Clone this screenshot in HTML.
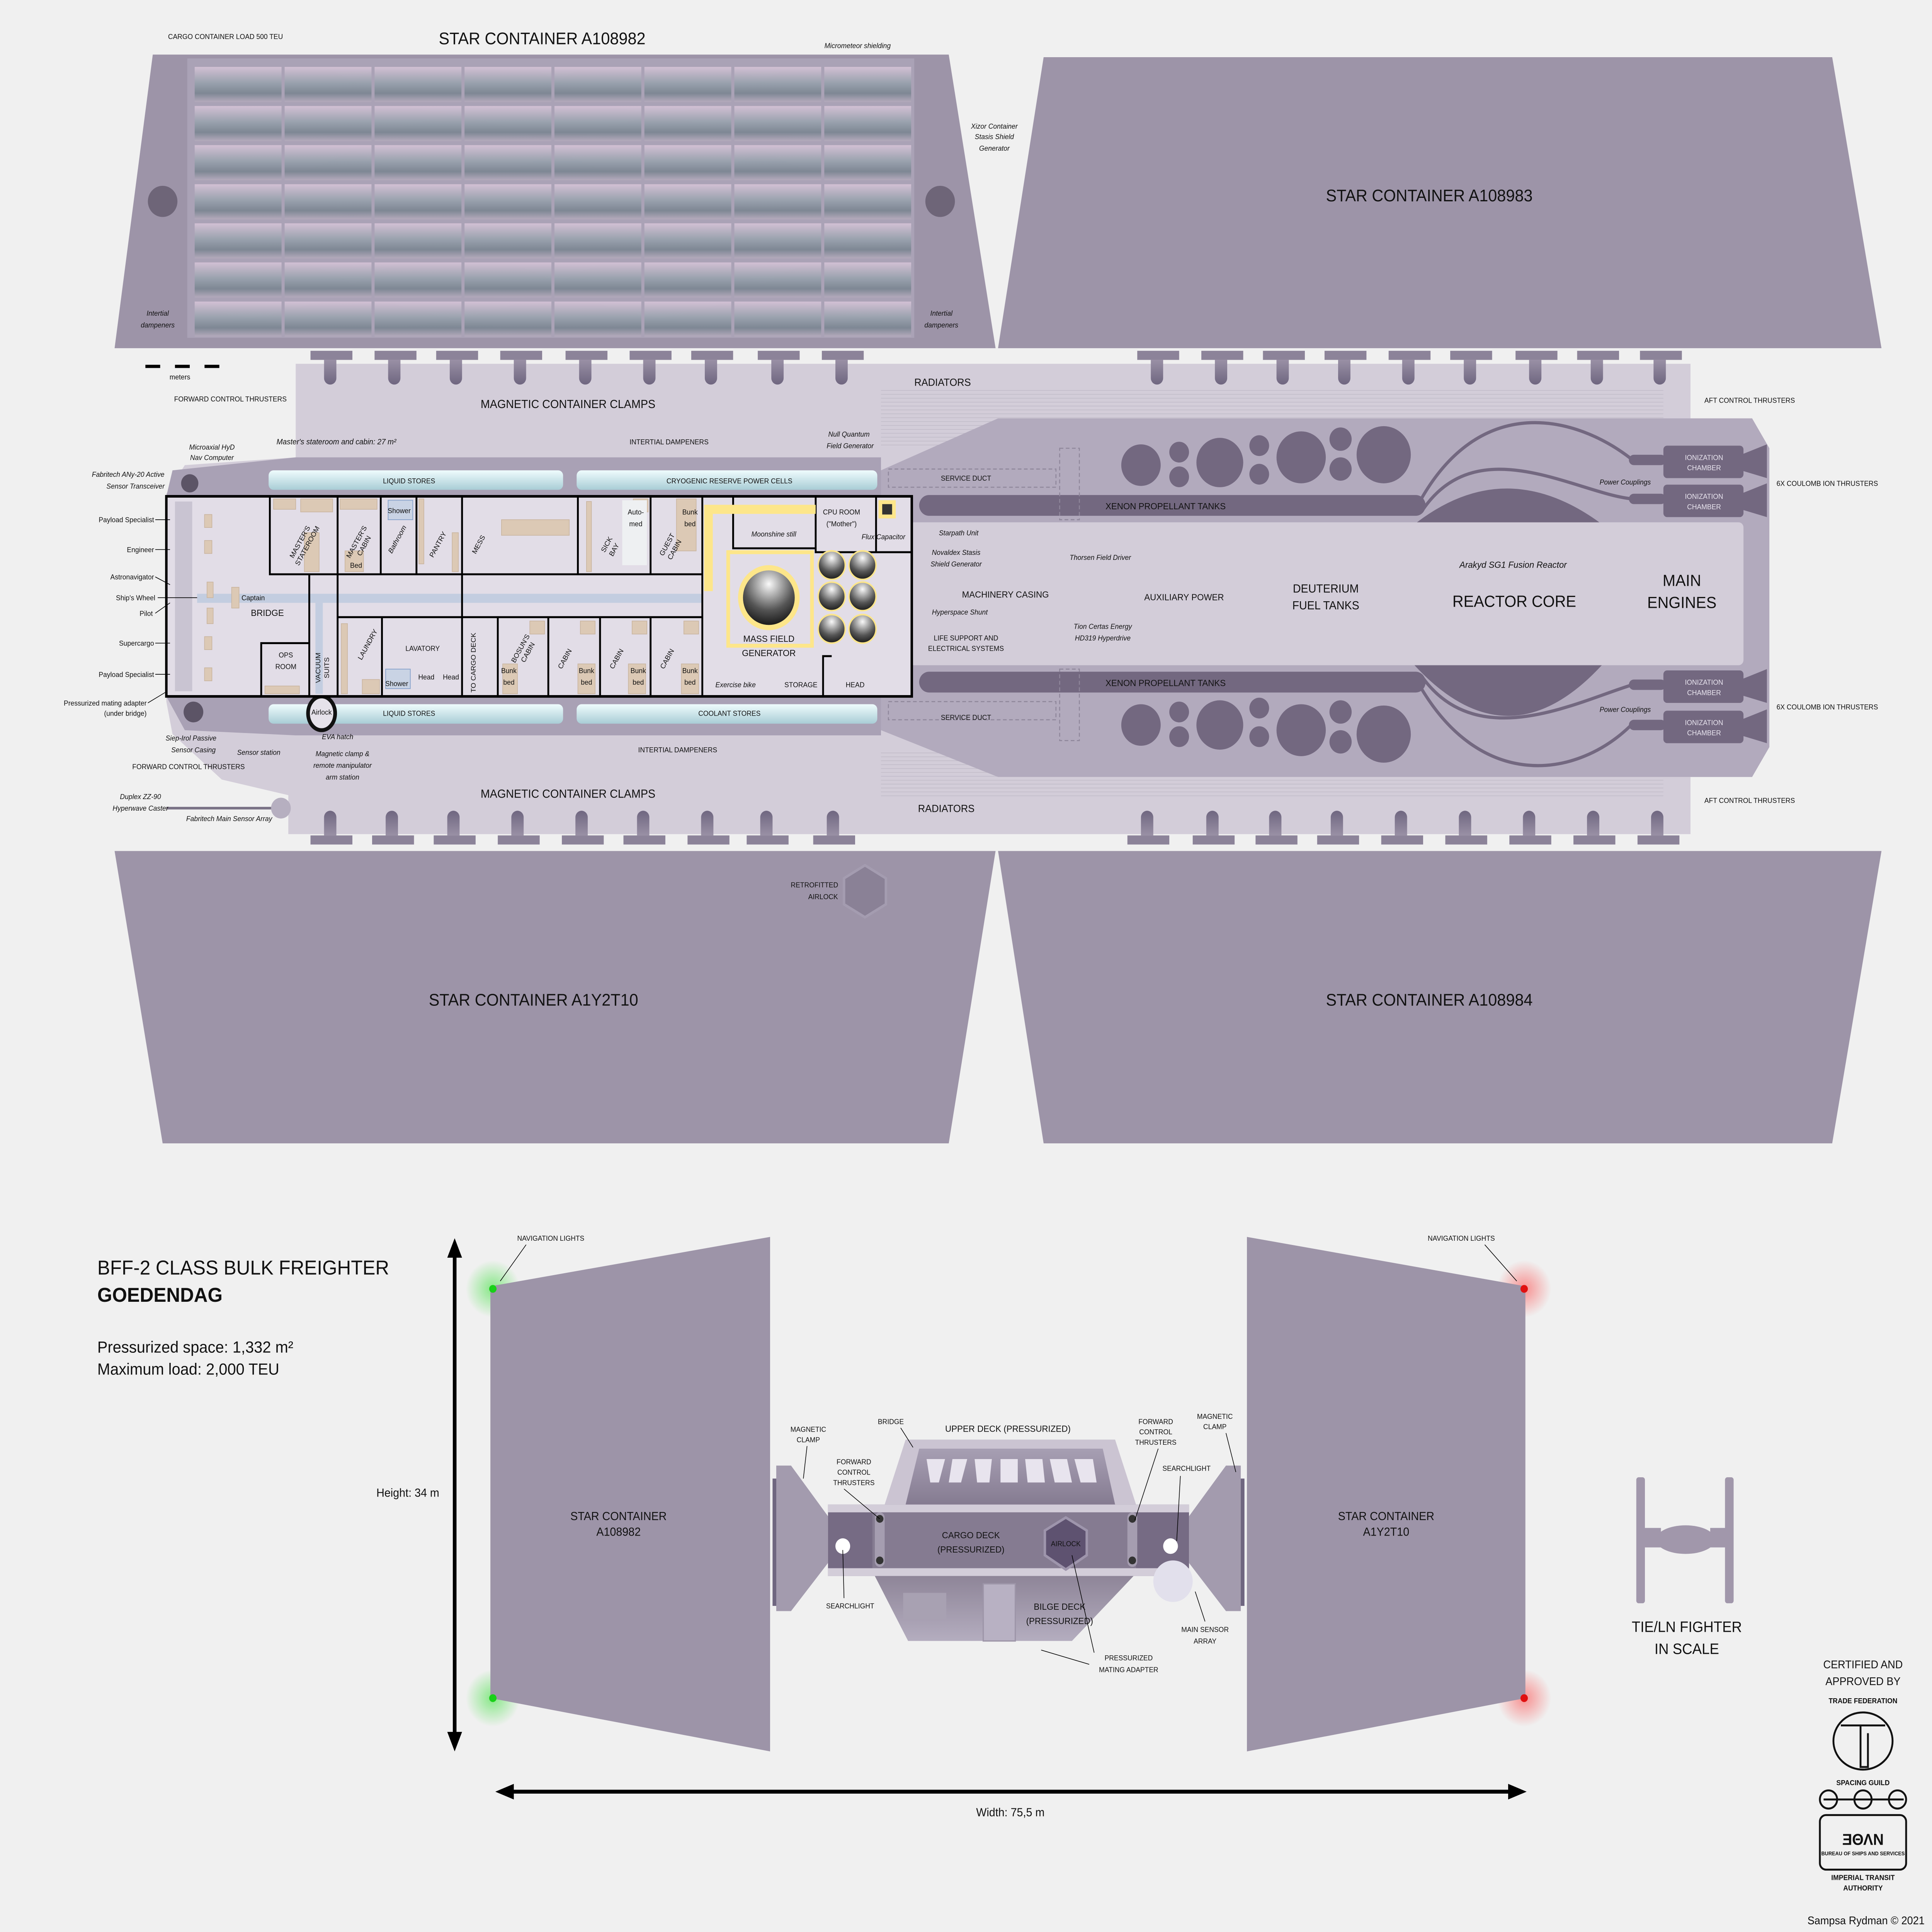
<!DOCTYPE html>
<html><head><meta charset="utf-8">
<style>
html,body{margin:0;padding:0;background:#f0f0f0;overflow:hidden;width:100%;height:100%;}
svg{display:block;position:fixed;left:0;top:0;width:100vw;height:100vh;}
text{font-family:"Liberation Sans Narrow","Liberation Sans",sans-serif;fill:#111;}
.s{font-size:5.5px;}
.si{font-size:5.5px;font-style:italic;}
.m{font-size:7px;}
.c{text-anchor:middle;}
.r{text-anchor:end;}
</style></head><body>
<svg viewBox="0 0 1568 1487" preserveAspectRatio="none" xmlns="http://www.w3.org/2000/svg">
<defs>
<linearGradient id="box" x1="0" y1="0" x2="0" y2="1">
<stop offset="0" stop-color="#d2c0d4"/><stop offset="0.45" stop-color="#9aa2ae"/><stop offset="0.75" stop-color="#7e8794"/><stop offset="1" stop-color="#b4aabc"/></linearGradient>
<pattern id="grid" x="157" y="50" width="73" height="30.1" patternUnits="userSpaceOnUse">
<rect x="1" y="1.5" width="70.5" height="27" fill="url(#box)"/></pattern>
<linearGradient id="stem" x1="0" y1="0" x2="0" y2="1"><stop offset="0" stop-color="#9990a5"/><stop offset="1" stop-color="#6f6680"/></linearGradient>
<linearGradient id="stem2" x1="0" y1="1" x2="0" y2="0"><stop offset="0" stop-color="#9990a5"/><stop offset="1" stop-color="#6f6680"/></linearGradient>
<linearGradient id="pill" x1="0" y1="0" x2="0" y2="1"><stop offset="0" stop-color="#effcfd"/><stop offset="1" stop-color="#a9cdd6"/></linearGradient>
<radialGradient id="sph" cx="0.5" cy="0.25" r="0.8"><stop offset="0" stop-color="#fafafa"/><stop offset="0.6" stop-color="#555"/><stop offset="1" stop-color="#111"/></radialGradient>
<radialGradient id="gg"><stop offset="0" stop-color="#2fe02f" stop-opacity="0.55"/><stop offset="1" stop-color="#2fe02f" stop-opacity="0"/></radialGradient>
<radialGradient id="rg"><stop offset="0" stop-color="#ff3030" stop-opacity="0.5"/><stop offset="1" stop-color="#ff3030" stop-opacity="0"/></radialGradient>
<linearGradient id="deck" x1="0" y1="0" x2="0" y2="1"><stop offset="0" stop-color="#a79fb3"/><stop offset="1" stop-color="#857b91"/></linearGradient>
<linearGradient id="bil" x1="0" y1="0" x2="0" y2="1"><stop offset="0" stop-color="#8e8598"/><stop offset="1" stop-color="#b4adbf"/></linearGradient>
<pattern id="rad" width="4" height="3" patternUnits="userSpaceOnUse"><rect width="4" height="3" fill="#d3cdd9"/><path d="M0 0.5H4" stroke="#c2bcc9" stroke-width="0.5"/></pattern>
</defs>

<rect width="1568" height="1487" fill="#f0f0f0"/>

<polygon points="124,42 770,42 808,268 93,268" fill="#9d94a8"/>
<rect x="152" y="45" width="590" height="215" fill="#aaa2b6"/>
<rect x="157" y="50" width="584" height="211" fill="url(#grid)"/>
<circle cx="132" cy="155" r="12" fill="#6e6578"/>
<circle cx="763" cy="155" r="12" fill="#6e6578"/>
<polygon points="847,44 1487,44 1527,268 810,268" fill="#9d94a8"/>
<polygon points="93,655 808,655 770,880 132,880" fill="#9d94a8"/>
<polygon points="810,655 1527,655 1487,880 847,880" fill="#9d94a8"/>
<polygon points="702,666 719,676 719,696 702,706 685,696 685,676" fill="#8a8196" stroke="#a49cb0" stroke-width="2"/>

<polygon points="240,280 1372,280 1372,322 1422,322 1436,345 1436,575 1422,598 1372,598 1372,642 234,642 234,612 180,600 140,565 135,540 135,380 150,358 240,352" fill="#d3cdd9"/>
<polygon points="240,352 715,352 715,382 135,382 140,362" fill="#a9a1b5"/>
<polygon points="135,536 715,536 715,566 240,566 150,562" fill="#a9a1b5"/>
<rect x="715" y="300" width="635" height="45" fill="url(#rad)"/>
<rect x="715" y="578" width="635" height="35" fill="url(#rad)"/>
<polygon points="715,362 810,322 1422,322 1436,345 1436,575 1422,598 810,598 715,562" fill="#b2aabd"/>
<rect x="738" y="402" width="677" height="110" rx="4" fill="#d3cdd9"/>
<g fill="#736880">
<rect x="746" y="381" width="411" height="16" rx="8"/>
<rect x="746" y="517" width="411" height="16" rx="8"/>
<ellipse cx="926" cy="358" rx="16" ry="16"/><ellipse cx="957" cy="348" rx="8" ry="8"/><ellipse cx="957" cy="367" rx="8" ry="8"/>
<ellipse cx="990" cy="356" rx="19" ry="19"/><ellipse cx="1022" cy="343" rx="8" ry="8"/><ellipse cx="1022" cy="365" rx="8" ry="8"/>
<ellipse cx="1056" cy="352" rx="20" ry="20"/><ellipse cx="1088" cy="338" rx="9" ry="9"/><ellipse cx="1088" cy="361" rx="9" ry="9"/><ellipse cx="1123" cy="350" rx="22" ry="22"/>
<ellipse cx="926" cy="558" rx="16" ry="16"/><ellipse cx="957" cy="548" rx="8" ry="8"/><ellipse cx="957" cy="567" rx="8" ry="8"/>
<ellipse cx="990" cy="558" rx="19" ry="19"/><ellipse cx="1022" cy="545" rx="8" ry="8"/><ellipse cx="1022" cy="567" rx="8" ry="8"/>
<ellipse cx="1056" cy="562" rx="20" ry="20"/><ellipse cx="1088" cy="548" rx="9" ry="9"/><ellipse cx="1088" cy="571" rx="9" ry="9"/><ellipse cx="1123" cy="565" rx="22" ry="22"/>
<path d="M1150 402 Q1222 350 1298 402Z"/>
<path d="M1148 512 Q1224 590 1300 512Z"/>
<rect x="1350" y="343" width="65" height="25" rx="3"/><rect x="1350" y="373" width="65" height="25" rx="3"/>
<rect x="1350" y="516" width="65" height="25" rx="3"/><rect x="1350" y="547" width="65" height="25" rx="3"/>
<polygon points="1413,350 1434,342 1434,368 1413,362"/><polygon points="1413,380 1434,372 1434,398 1413,392"/>
<polygon points="1413,523 1434,515 1434,541 1413,535"/><polygon points="1413,554 1434,546 1434,572 1413,566"/>
<rect x="1322" y="350" width="30" height="8" rx="4"/><rect x="1322" y="380" width="30" height="8" rx="4"/>
<rect x="1322" y="523" width="30" height="8" rx="4"/><rect x="1322" y="554" width="30" height="8" rx="4"/>
</g>
<g fill="none" stroke="#736880" stroke-width="2.5">
<path d="M1150 390 C1200 300 1280 320 1325 354"/><path d="M1155 392 C1200 330 1280 380 1325 384"/>
<path d="M1150 524 C1200 610 1280 600 1325 557"/><path d="M1155 522 C1200 580 1280 540 1325 527"/>
</g>
<g fill="none" stroke="#8f879b" stroke-width="0.8" stroke-dasharray="3,2">
<rect x="721" y="361" width="136" height="14"/><rect x="721" y="540" width="136" height="14"/>
<rect x="860" y="345" width="16" height="55"/><rect x="860" y="515" width="16" height="55"/>
</g>

<g>
<g fill="#8c8399">
<rect x="252" y="270" width="34" height="7"/><rect x="304" y="270" width="34" height="7"/><rect x="354" y="270" width="34" height="7"/><rect x="406" y="270" width="34" height="7"/><rect x="459" y="270" width="34" height="7"/><rect x="511" y="270" width="34" height="7"/><rect x="561" y="270" width="34" height="7"/><rect x="615" y="270" width="34" height="7"/><rect x="667" y="270" width="34" height="7"/>
<rect x="923" y="270" width="34" height="7"/><rect x="975" y="270" width="34" height="7"/><rect x="1025" y="270" width="34" height="7"/><rect x="1075" y="270" width="34" height="7"/><rect x="1127" y="270" width="34" height="7"/><rect x="1177" y="270" width="34" height="7"/><rect x="1230" y="270" width="34" height="7"/><rect x="1280" y="270" width="34" height="7"/><rect x="1331" y="270" width="34" height="7"/>
<rect x="252" y="643" width="34" height="7"/><rect x="302" y="643" width="34" height="7"/><rect x="352" y="643" width="34" height="7"/><rect x="404" y="643" width="34" height="7"/><rect x="456" y="643" width="34" height="7"/><rect x="506" y="643" width="34" height="7"/><rect x="558" y="643" width="34" height="7"/><rect x="606" y="643" width="34" height="7"/><rect x="660" y="643" width="34" height="7"/>
<rect x="915" y="643" width="34" height="7"/><rect x="968" y="643" width="34" height="7"/><rect x="1019" y="643" width="34" height="7"/><rect x="1069" y="643" width="34" height="7"/><rect x="1121" y="643" width="34" height="7"/><rect x="1173" y="643" width="34" height="7"/><rect x="1225" y="643" width="34" height="7"/><rect x="1277" y="643" width="34" height="7"/><rect x="1329" y="643" width="34" height="7"/>
</g>
<g fill="url(#stem)">
<path d="M263 277h10v14a5 5 0 0 1-10 0z"/><path d="M315 277h10v14a5 5 0 0 1-10 0z"/><path d="M365 277h10v14a5 5 0 0 1-10 0z"/><path d="M417 277h10v14a5 5 0 0 1-10 0z"/><path d="M470 277h10v14a5 5 0 0 1-10 0z"/><path d="M522 277h10v14a5 5 0 0 1-10 0z"/><path d="M572 277h10v14a5 5 0 0 1-10 0z"/><path d="M626 277h10v14a5 5 0 0 1-10 0z"/><path d="M678 277h10v14a5 5 0 0 1-10 0z"/>
<path d="M934 277h10v14a5 5 0 0 1-10 0z"/><path d="M986 277h10v14a5 5 0 0 1-10 0z"/><path d="M1036 277h10v14a5 5 0 0 1-10 0z"/><path d="M1086 277h10v14a5 5 0 0 1-10 0z"/><path d="M1138 277h10v14a5 5 0 0 1-10 0z"/><path d="M1188 277h10v14a5 5 0 0 1-10 0z"/><path d="M1241 277h10v14a5 5 0 0 1-10 0z"/><path d="M1291 277h10v14a5 5 0 0 1-10 0z"/><path d="M1342 277h10v14a5 5 0 0 1-10 0z"/>
</g>
<g fill="url(#stem2)">
<path d="M263 643h10v-14a5 5 0 0 0-10 0z"/><path d="M313 643h10v-14a5 5 0 0 0-10 0z"/><path d="M363 643h10v-14a5 5 0 0 0-10 0z"/><path d="M415 643h10v-14a5 5 0 0 0-10 0z"/><path d="M467 643h10v-14a5 5 0 0 0-10 0z"/><path d="M517 643h10v-14a5 5 0 0 0-10 0z"/><path d="M569 643h10v-14a5 5 0 0 0-10 0z"/><path d="M617 643h10v-14a5 5 0 0 0-10 0z"/><path d="M671 643h10v-14a5 5 0 0 0-10 0z"/>
<path d="M926 643h10v-14a5 5 0 0 0-10 0z"/><path d="M979 643h10v-14a5 5 0 0 0-10 0z"/><path d="M1030 643h10v-14a5 5 0 0 0-10 0z"/><path d="M1080 643h10v-14a5 5 0 0 0-10 0z"/><path d="M1132 643h10v-14a5 5 0 0 0-10 0z"/><path d="M1184 643h10v-14a5 5 0 0 0-10 0z"/><path d="M1236 643h10v-14a5 5 0 0 0-10 0z"/><path d="M1288 643h10v-14a5 5 0 0 0-10 0z"/><path d="M1340 643h10v-14a5 5 0 0 0-10 0z"/>
</g>
</g>

<rect x="218" y="362" width="239" height="15" rx="4" fill="url(#pill)"/>
<rect x="468" y="362" width="244" height="15" rx="4" fill="url(#pill)"/>
<rect x="218" y="542" width="239" height="15" rx="4" fill="url(#pill)"/>
<rect x="468" y="542" width="244" height="15" rx="4" fill="url(#pill)"/>
<circle cx="154" cy="372" r="7" fill="#5c5466"/>
<circle cx="157" cy="548" r="8" fill="#5c5466"/>
<ellipse cx="261" cy="549" rx="11" ry="13" fill="#e6e2ea" stroke="#111" stroke-width="3"/>
<path d="M135 622h95" stroke="#7a7286" stroke-width="2"/><circle cx="228" cy="622" r="8" fill="#b6afc0"/>

<rect x="135" y="382" width="605" height="154" fill="#e2dde7" stroke="#000" stroke-width="2"/>
<rect x="142" y="386" width="14" height="146" fill="#c9c4d2"/>
<rect x="160" y="457" width="410" height="7" fill="#c3cde0"/>
<rect x="256" y="464" width="6" height="70" fill="#c3cde0"/>
<g stroke="#000" stroke-width="1.5" fill="none">
<path d="M219 382V442H570"/><path d="M274 382V442"/><path d="M309 382V442"/><path d="M338 382V442"/><path d="M375 382V442"/><path d="M469 382V442"/><path d="M528 382V442"/>
<path d="M570 382V536"/>
<path d="M274 475H570"/><path d="M251 442V536"/><path d="M274 442V536"/><path d="M310 475V536"/><path d="M375 442V536"/><path d="M404 475V536"/><path d="M445 475V536"/><path d="M487 475V536"/><path d="M528 475V536"/>
<path d="M212 536V495H251"/>
<path d="M595 382V422H662"/><path d="M662 382V425H739"/><path d="M711 382V425"/>
<path d="M668 536V505H675"/>
</g>
<path d="M575 455V392H662" stroke="#fde68a" stroke-width="7" fill="none"/>
<rect x="591" y="425" width="68" height="72" fill="none" stroke="#fde68a" stroke-width="3"/>
<circle cx="624" cy="460" r="25" fill="#fde68a"/><circle cx="624" cy="460" r="21" fill="url(#sph)"/>
<g fill="url(#sph)" stroke="#fde68a" stroke-width="1.2">
<circle cx="675" cy="435" r="11"/><circle cx="700" cy="435" r="11"/><circle cx="675" cy="459" r="11"/><circle cx="700" cy="459" r="11"/><circle cx="675" cy="484" r="11"/><circle cx="700" cy="484" r="11"/>
</g>
<rect x="713" y="385" width="14" height="14" fill="#fde68a"/><rect x="716" y="388" width="8" height="8" fill="#333"/>
<g fill="#dcc9b5" stroke="#c9b49e" stroke-width="0.5">
<rect x="166" y="396" width="6" height="10"/><rect x="166" y="416" width="6" height="10"/><rect x="168" y="448" width="5" height="12"/><rect x="188" y="452" width="6" height="16"/><rect x="168" y="468" width="5" height="12"/><rect x="166" y="490" width="6" height="10"/><rect x="166" y="514" width="6" height="10"/>
<rect x="222" y="384" width="18" height="8"/><rect x="244" y="384" width="26" height="10"/><rect x="247" y="410" width="12" height="30"/>
<rect x="276" y="384" width="30" height="8"/><rect x="280" y="424" width="15" height="16"/>
<rect x="340" y="384" width="4" height="50"/><rect x="367" y="410" width="5" height="30"/>
<rect x="407" y="400" width="55" height="12"/><rect x="514" y="384" width="12" height="10"/><rect x="549" y="384" width="16" height="40"/>
<rect x="277" y="480" width="5" height="54"/><rect x="294" y="523" width="14" height="11"/><rect x="215" y="528" width="28" height="6"/>
<rect x="408" y="511" width="12" height="23"/><rect x="469" y="511" width="14" height="23"/><rect x="510" y="511" width="14" height="23"/><rect x="553" y="511" width="14" height="23"/>
<rect x="430" y="478" width="12" height="10"/><rect x="471" y="478" width="12" height="10"/><rect x="513" y="478" width="12" height="10"/><rect x="555" y="478" width="12" height="10"/>
<rect x="476" y="386" width="4" height="54"/>
</g>
<rect x="315" y="385" width="20" height="15" fill="#c9d3e4" stroke="#8aa4cc" stroke-width="0.6"/>
<rect x="313" y="515" width="20" height="15" fill="#c9d3e4" stroke="#8aa4cc" stroke-width="0.6"/>
<rect x="505" y="385" width="20" height="50" fill="#eef0f2"/>

<circle cx="400" cy="992" r="22" fill="url(#gg)"/><circle cx="400" cy="1307" r="22" fill="url(#gg)"/>
<circle cx="1237" cy="992" r="22" fill="url(#rg)"/><circle cx="1237" cy="1307" r="22" fill="url(#rg)"/>
<polygon points="398,990 625,952 625,1348 398,1307" fill="#9d94a8"/>
<polygon points="1012,952 1238,990 1238,1307 1012,1348" fill="#9d94a8"/>
<circle cx="400" cy="992" r="3" fill="#18d018"/><circle cx="400" cy="1307" r="3" fill="#18d018"/>
<circle cx="1237" cy="992" r="3" fill="#e01010"/><circle cx="1237" cy="1307" r="3" fill="#e01010"/>
<path d="M369 965V1338" stroke="#000" stroke-width="3"/>
<polygon points="369,953 363,968 375,968"/><polygon points="369,1348 363,1333 375,1333"/>
<path d="M414 1379H1228" stroke="#000" stroke-width="3"/>
<polygon points="402,1379 417,1373 417,1385"/><polygon points="1239,1379 1224,1373 1224,1385"/>

<rect x="627" y="1138" width="6" height="98" fill="#6f6680"/>
<polygon points="630,1128 642,1128 672,1167 672,1203 642,1240 630,1240" fill="#a39bae"/>
<rect x="1004" y="1138" width="6" height="98" fill="#6f6680"/>
<polygon points="1007,1128 995,1128 965,1167 965,1203 995,1240 1007,1240" fill="#a39bae"/>
<polygon points="735,1108 905,1108 922,1158 718,1158" fill="#cbc4d2"/>
<polygon points="746,1115 895,1115 905,1158 735,1158" fill="url(#deck)"/>
<g fill="#e8e4ee"><polygon points="752,1123 767,1123 762,1141 755,1141"/><polygon points="773,1123 785,1123 780,1141 770,1141"/><polygon points="791,1123 805,1123 803,1141 793,1141"/><polygon points="812,1123 826,1123 826,1141 812,1141"/><polygon points="832,1123 846,1123 848,1141 834,1141"/><polygon points="852,1123 866,1123 870,1141 856,1141"/><polygon points="872,1123 887,1123 890,1141 877,1141"/></g>
<rect x="672" y="1158" width="293" height="55" fill="#766b84"/>
<rect x="672" y="1158" width="293" height="6" fill="#d3cdd9"/><rect x="672" y="1207" width="293" height="6" fill="#d3cdd9"/>
<rect x="708" y="1164" width="214" height="43" fill="#857b91"/>
<rect x="710" y="1164" width="8" height="42" rx="4" fill="#a59db0"/><circle cx="714" cy="1169" r="3" fill="#333"/><circle cx="714" cy="1201" r="3" fill="#333"/>
<rect x="915" y="1164" width="8" height="42" rx="4" fill="#a59db0"/><circle cx="919" cy="1169" r="3" fill="#333"/><circle cx="919" cy="1201" r="3" fill="#333"/>
<polygon points="865,1168 882,1178 882,1197 865,1208 848,1197 848,1178" fill="#5e5270" stroke="#9e95ac" stroke-width="2"/>
<circle cx="684" cy="1190" r="6" fill="#fff"/><circle cx="950" cy="1190" r="6" fill="#fff"/>
<polygon points="710,1213 920,1213 870,1263 737,1263" fill="url(#bil)"/>
<rect x="733" y="1226" width="35" height="20" fill="#a8a1b2"/><rect x="798" y="1219" width="26" height="44" fill="#b8b1c3" stroke="#9d95a8"/>
<circle cx="952" cy="1217" r="16" fill="#e2e0ec"/>

<g fill="#a197ab">
<rect x="1328" y="1137" width="7" height="97" rx="2"/><rect x="1400" y="1137" width="7" height="97" rx="2"/>
<rect x="1334" y="1176" width="14" height="15"/><rect x="1388" y="1176" width="14" height="15"/>
<ellipse cx="1368" cy="1185" rx="24" ry="11"/>
</g>

<g fill="none" stroke="#111" stroke-width="1.5">
<ellipse cx="1512" cy="1340" rx="24" ry="22"/>
<path d="M1494 1328H1530M1510 1328V1360H1516V1334"/>
<circle cx="1484" cy="1385" r="7"/><circle cx="1512" cy="1385" r="7"/><circle cx="1540" cy="1385" r="7"/><path d="M1480 1385H1545"/>
<rect x="1477" y="1397" width="70" height="42" rx="5"/>
</g>
<text x="1512" y="1420" class="c" style="font-family:'Liberation Sans',sans-serif;font-size:12px;font-weight:bold;">ƎΘΛΝ</text>

<text x="183" y="30" class="s c">CARGO CONTAINER LOAD 500 TEU</text>
<text x="440" y="34" class="c" style="font-size:13px">STAR CONTAINER A108982</text>
<text x="696" y="37" class="si c">Micrometeor shielding</text>
<text x="807" y="99" class="si c">Xizor Container</text><text x="807" y="107" class="si c">Stasis Shield</text><text x="807" y="116" class="si c">Generator</text>
<text x="128" y="243" class="si c">Intertial</text><text x="128" y="252" class="si c">dampeners</text>
<text x="764" y="243" class="si c">Intertial</text><text x="764" y="252" class="si c">dampeners</text>
<text x="1160" y="155" class="c" style="font-size:13px">STAR CONTAINER A108983</text>
<path d="M118 282h12M142 282h12M166 282h12" stroke="#000" stroke-width="2.5"/>
<text x="146" y="292" class="s c">meters</text>
<text x="187" y="309" class="s c">FORWARD CONTROL THRUSTERS</text>
<text x="461" y="314" class="c" style="font-size:9px">MAGNETIC CONTAINER CLAMPS</text>
<text x="765" y="297" class="c" style="font-size:8px">RADIATORS</text>
<text x="1420" y="310" class="s c">AFT CONTROL THRUSTERS</text>
<text x="273" y="342" class="si c" style="font-size:6px">Master's stateroom and cabin: 27 m²</text>
<text x="543" y="342" class="s c">INTERTIAL DAMPENERS</text>
<text x="689" y="336" class="si c">Null Quantum</text><text x="690" y="345" class="si c">Field Generator</text>
<text x="172" y="346" class="si c">Microaxial HyD</text><text x="172" y="354" class="si c">Nav Computer</text>
<text x="104" y="367" class="si c">Fabritech ANy-20 Active</text><text x="110" y="376" class="si c">Sensor Transceiver</text>
<text x="332" y="372" class="s c">LIQUID STORES</text>
<text x="592" y="372" class="s c">CRYOGENIC RESERVE POWER CELLS</text>
<text x="784" y="370" class="s c">SERVICE DUCT</text>
<text x="946" y="392" class="c" style="font-size:7px">XENON PROPELLANT TANKS</text>
<text x="125" y="402" class="s r">Payload Specialist</text>
<text x="125" y="425" class="s r">Engineer</text>
<text x="125" y="446" class="s r">Astronavigator</text>
<text x="126" y="462" class="s r">Ship's Wheel</text>
<text x="124" y="474" class="s r">Pilot</text>
<text x="125" y="497" class="s r">Supercargo</text>
<text x="125" y="521" class="s r">Payload Specialist</text>
<text x="119" y="543" class="s r">Pressurized mating adapter</text><text x="119" y="551" class="s r">(under bridge)</text>
<g stroke="#000" stroke-width="0.5"><path d="M126 400h12M126 423h12M126 444l12 6M128 460h32M126 472l12-8M126 495h12M126 519h12M120 541l14-8"/></g>
<text x="155" y="570" class="si c">Siep-Irol Passive</text><text x="157" y="579" class="si c">Sensor Casing</text>
<text x="210" y="581" class="si c">Sensor station</text>
<text x="274" y="569" class="si c">EVA hatch</text>
<text x="278" y="582" class="si c">Magnetic clamp &amp;</text><text x="278" y="591" class="si c">remote manipulator</text><text x="278" y="600" class="si c">arm station</text>
<text x="153" y="592" class="s c">FORWARD CONTROL THRUSTERS</text>
<text x="114" y="615" class="si c">Duplex ZZ-90</text><text x="114" y="624" class="si c">Hyperwave Caster</text>
<text x="186" y="632" class="si c">Fabritech Main Sensor Array</text>
<text x="332" y="551" class="s c">LIQUID STORES</text>
<text x="592" y="551" class="s c">COOLANT STORES</text>
<text x="784" y="554" class="s c">SERVICE DUCT</text>
<text x="946" y="528" class="c" style="font-size:7px">XENON PROPELLANT TANKS</text>
<text x="550" y="579" class="s c">INTERTIAL DAMPENERS</text>
<text x="461" y="614" class="c" style="font-size:9px">MAGNETIC CONTAINER CLAMPS</text>
<text x="768" y="625" class="c" style="font-size:8px">RADIATORS</text>
<text x="1420" y="618" class="s c">AFT CONTROL THRUSTERS</text>
<text x="661" y="683" class="s c">RETROFITTED</text><text x="668" y="692" class="s c">AIRLOCK</text>
<text x="762" y="412" class="si">Starpath Unit</text>
<text x="776" y="427" class="si c">Novaldex Stasis</text><text x="776" y="436" class="si c">Shield Generator</text>
<text x="893" y="431" class="si c">Thorsen Field Driver</text>
<text x="816" y="460" class="m c">MACHINERY CASING</text>
<text x="961" y="462" class="m c">AUXILIARY POWER</text>
<text x="1076" y="456" class="c" style="font-size:9px">DEUTERIUM</text><text x="1076" y="469" class="c" style="font-size:9px">FUEL TANKS</text>
<text x="1228" y="437" class="si c" style="font-size:7px">Arakyd SG1 Fusion Reactor</text>
<text x="1229" y="467" class="c" style="font-size:12.5px">REACTOR CORE</text>
<text x="1365" y="451" class="c" style="font-size:12.5px">MAIN</text><text x="1365" y="468" class="c" style="font-size:12.5px">ENGINES</text>
<text x="779" y="473" class="si c">Hyperspace Shunt</text>
<text x="784" y="493" class="s c">LIFE SUPPORT AND</text><text x="784" y="501" class="s c">ELECTRICAL SYSTEMS</text>
<text x="895" y="484" class="si c">Tion Certas Energy</text><text x="895" y="493" class="si c">HD319 Hyperdrive</text>
<text x="1319" y="373" class="si c">Power Couplings</text><text x="1319" y="548" class="si c">Power Couplings</text>
<text x="1383" y="354" class="s c" style="fill:#e8e4ee">IONIZATION</text><text x="1383" y="362" class="s c" style="fill:#e8e4ee">CHAMBER</text>
<text x="1383" y="384" class="s c" style="fill:#e8e4ee">IONIZATION</text><text x="1383" y="392" class="s c" style="fill:#e8e4ee">CHAMBER</text>
<text x="1383" y="527" class="s c" style="fill:#e8e4ee">IONIZATION</text><text x="1383" y="535" class="s c" style="fill:#e8e4ee">CHAMBER</text>
<text x="1383" y="558" class="s c" style="fill:#e8e4ee">IONIZATION</text><text x="1383" y="566" class="s c" style="fill:#e8e4ee">CHAMBER</text>
<text x="1483" y="374" class="s c">6X COULOMB ION THRUSTERS</text>
<text x="1483" y="546" class="s c">6X COULOMB ION THRUSTERS</text>
<text x="683" y="396" class="s c">CPU ROOM</text><text x="683" y="405" class="s c">("Mother")</text>
<text x="628" y="413" class="si c">Moonshine still</text>
<text x="717" y="415" class="si c">Flux Capacitor</text>
<text x="624" y="494" class="m c">MASS FIELD</text><text x="624" y="505" class="m c">GENERATOR</text>
<text x="597" y="529" class="si c">Exercise bike</text>
<text x="650" y="529" class="s c">STORAGE</text>
<text x="694" y="529" class="s c">HEAD</text>
<text x="196" y="462" class="s">Captain</text>
<text x="217" y="474" class="m c">BRIDGE</text>
<text x="232" y="506" class="s c">OPS</text><text x="232" y="515" class="s c">ROOM</text>
<text x="343" y="501" class="s c">LAVATORY</text>
<text x="324" y="395" class="s c">Shower</text><text x="322" y="528" class="s c">Shower</text>
<text x="346" y="523" class="s c">Head</text><text x="366" y="523" class="s c">Head</text>
<text x="289" y="437" class="s c">Bed</text>
<text x="516" y="396" class="s c">Auto-</text><text x="516" y="405" class="s c">med</text>
<text x="560" y="396" class="s c">Bunk</text><text x="560" y="405" class="s c">bed</text>
<text x="413" y="518" class="s c">Bunk</text><text x="413" y="527" class="s c">bed</text>
<text x="476" y="518" class="s c">Bunk</text><text x="476" y="527" class="s c">bed</text>
<text x="518" y="518" class="s c">Bunk</text><text x="518" y="527" class="s c">bed</text>
<text x="560" y="518" class="s c">Bunk</text><text x="560" y="527" class="s c">bed</text>
<text x="261" y="550" class="s c">Airlock</text>
<text transform="translate(245,418) rotate(-60)" class="s c">MASTER'S</text><text transform="translate(251,421) rotate(-60)" class="s c">STATEROOM</text>
<text transform="translate(291,418) rotate(-60)" class="s c">MASTER'S</text><text transform="translate(297,421) rotate(-60)" class="s c">CABIN</text>
<text transform="translate(324,416) rotate(-60)" class="si c">Bathroom</text>
<text transform="translate(357,420) rotate(-60)" class="s c">PANTRY</text>
<text transform="translate(390,420) rotate(-60)" class="s c">MESS</text>
<text transform="translate(494,420) rotate(-60)" class="s c">SICK</text><text transform="translate(500,424) rotate(-60)" class="s c">BAY</text>
<text transform="translate(543,420) rotate(-60)" class="s c">GUEST</text><text transform="translate(549,424) rotate(-60)" class="s c">CABIN</text>
<text transform="translate(300,497) rotate(-60)" class="s c">LAUNDRY</text>
<text transform="translate(260,514) rotate(-90)" class="s c">VACUUM</text><text transform="translate(267,514) rotate(-90)" class="s c">SUITS</text>
<text transform="translate(386,510) rotate(-90)" class="s c">TO CARGO DECK</text>
<text transform="translate(424,500) rotate(-60)" class="s c">BOSUN'S</text><text transform="translate(430,503) rotate(-60)" class="s c">CABIN</text>
<text transform="translate(460,508) rotate(-60)" class="s c">CABIN</text>
<text transform="translate(502,508) rotate(-60)" class="s c">CABIN</text>
<text transform="translate(543,508) rotate(-60)" class="s c">CABIN</text>
<text x="433" y="774" class="c" style="font-size:13px">STAR CONTAINER A1Y2T10</text>
<text x="1160" y="774" class="c" style="font-size:13px">STAR CONTAINER A108984</text>

<text x="79" y="981" style="font-size:15.5px">BFF-2 CLASS BULK FREIGHTER</text>
<text x="79" y="1002" style="font-size:15.5px;font-weight:bold">GOEDENDAG</text>
<text x="79" y="1041" style="font-size:12.5px">Pressurized space: 1,332 m²</text>
<text x="79" y="1058" style="font-size:12.5px">Maximum load: 2,000 TEU</text>
<text x="447" y="955" class="s c">NAVIGATION LIGHTS</text><path d="M427 958L406 986" stroke="#000" stroke-width="0.5"/>
<text x="1186" y="955" class="s c">NAVIGATION LIGHTS</text><path d="M1205 958L1231 986" stroke="#000" stroke-width="0.5"/>
<text x="331" y="1152" class="c" style="font-size:9px">Height: 34 m</text>
<text x="820" y="1398" class="c" style="font-size:9px">Width: 75,5 m</text>
<text x="502" y="1170" class="c" style="font-size:9px">STAR CONTAINER</text><text x="502" y="1182" class="c" style="font-size:9px">A108982</text>
<text x="1125" y="1170" class="c" style="font-size:9px">STAR CONTAINER</text><text x="1125" y="1182" class="c" style="font-size:9px">A1Y2T10</text>
<text x="656" y="1102" class="s c">MAGNETIC</text><text x="656" y="1110" class="s c">CLAMP</text>
<text x="723" y="1096" class="s c">BRIDGE</text>
<text x="818" y="1102" class="m c">UPPER DECK (PRESSURIZED)</text>
<text x="938" y="1096" class="s c">FORWARD</text><text x="938" y="1104" class="s c">CONTROL</text><text x="938" y="1112" class="s c">THRUSTERS</text>
<text x="986" y="1092" class="s c">MAGNETIC</text><text x="986" y="1100" class="s c">CLAMP</text>
<text x="693" y="1127" class="s c">FORWARD</text><text x="693" y="1135" class="s c">CONTROL</text><text x="693" y="1143" class="s c">THRUSTERS</text>
<text x="963" y="1132" class="s c">SEARCHLIGHT</text>
<text x="788" y="1184" class="m c">CARGO DECK</text><text x="788" y="1195" class="m c">(PRESSURIZED)</text>
<text x="865" y="1190" class="s c">AIRLOCK</text>
<text x="690" y="1238" class="s c">SEARCHLIGHT</text>
<text x="860" y="1239" class="m c">BILGE DECK</text><text x="860" y="1250" class="m c">(PRESSURIZED)</text>
<text x="978" y="1256" class="s c">MAIN SENSOR</text><text x="978" y="1265" class="s c">ARRAY</text>
<text x="916" y="1278" class="s c">PRESSURIZED</text><text x="916" y="1287" class="s c">MATING ADAPTER</text>
<g stroke="#000" stroke-width="0.5">
<path d="M655 1113L652 1138M731 1099L741 1114M940 1115L921 1170M995 1103L1003 1133M958 1136L955 1186M685 1146L714 1169M685 1230L684 1193M978 1248L970 1225M888 1272L870 1197M884 1281L845 1270"/>
</g>
<text x="1369" y="1256" class="c" style="font-size:11.5px;font-family:'Liberation Sans',sans-serif">TIE/LN FIGHTER</text>
<text x="1369" y="1273" class="c" style="font-size:11.5px;font-family:'Liberation Sans',sans-serif">IN SCALE</text>
<text x="1512" y="1284" class="c" style="font-size:8.5px;font-family:'Liberation Sans',sans-serif">CERTIFIED AND</text>
<text x="1512" y="1297" class="c" style="font-size:8.5px;font-family:'Liberation Sans',sans-serif">APPROVED BY</text>
<text x="1512" y="1311" class="c" style="font-size:5.5px;font-weight:bold;font-family:'Liberation Sans',sans-serif">TRADE FEDERATION</text>
<text x="1512" y="1374" class="c" style="font-size:5.5px;font-weight:bold;font-family:'Liberation Sans',sans-serif">SPACING GUILD</text>
<text x="1512" y="1428" class="c" style="font-size:4px;font-weight:bold;font-family:'Liberation Sans',sans-serif">BUREAU OF SHIPS AND SERVICES</text>
<text x="1512" y="1447" class="c" style="font-size:5.5px;font-weight:bold;font-family:'Liberation Sans',sans-serif">IMPERIAL TRANSIT</text>
<text x="1512" y="1455" class="c" style="font-size:5.5px;font-weight:bold;font-family:'Liberation Sans',sans-serif">AUTHORITY</text>
<text x="1562" y="1481" class="r" style="font-size:8.5px;font-family:'Liberation Sans',sans-serif">Sampsa Rydman © 2021</text>
</svg>
</body></html>
